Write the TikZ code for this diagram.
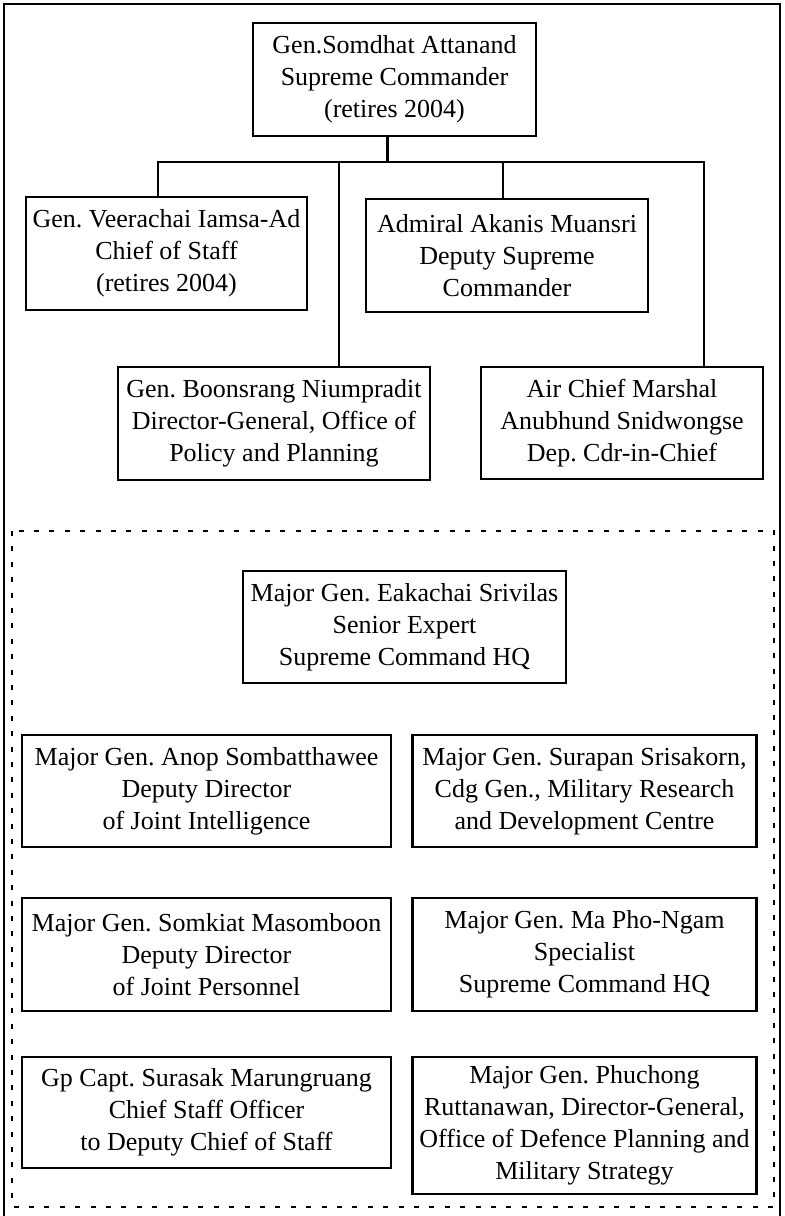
\documentclass[tikz,border=0pt]{standalone}
\usepackage{fontspec}
\setmainfont{Liberation Serif}
\frenchspacing

\begin{document}
\begin{tikzpicture}[x=0.5pt,y=-0.5pt,
	officer/.style={rectangle,draw,line width=1.3pt,align=center,inner xsep=1pt,inner ysep=2pt,font=\fontsize{13}{16}\selectfont},
	link/.style={line width=1.3pt},
	staff frame/.style={line width=1.3pt,dash pattern=on 2.5pt off 5.2pt}]
	\useasboundingbox (0,0) rectangle (784,1216);
	\draw[line width=1.4pt] (4,1216) |- (780,4) -- (780,1216);

	\node (supreme commander) [officer,minimum width=141.5pt,minimum height=56.5pt] at (394.5,79.5) {Gen.Somdhat Attanand\\Supreme Commander\\(retires 2004)};

	\node (chief of staff)  [officer,minimum width=140.5pt,minimum height=56.5pt] at (166.5,253.5) {Gen. Veerachai Iamsa-Ad\\Chief of Staff\\(retires 2004)};
	\node (deputy supreme)  [officer,minimum width=141pt,minimum height=56.5pt] at (507,255.5) {Admiral Akanis Muansri\\Deputy Supreme\\Commander};
	\node (policy planning) [officer,minimum width=156pt,minimum height=56.5pt] at (274,423.5) {Gen. Boonsrang Niumpradit\\Director-General, Office of\\Policy and Planning};
	\node (air chief)       [officer,minimum width=141pt,minimum height=56pt] at (622,423) {Air Chief Marshal\\Anubhund Snidwongse\\Dep. Cdr-in-Chief};

	\coordinate (bar west)   at (158,162);
	\coordinate (bar east)   at (704,162);
	\coordinate (tap policy) at (339,162);
	\coordinate (tap deputy) at (503,162);

	\draw[link] ([xshift=-3.5pt]supreme commander.south) -- ([xshift=-3.5pt]supreme commander.south |- bar west);
	\draw[link] (bar west |- chief of staff.north) -- (bar west) -- (bar east) -- (bar east |- air chief.north);
	\draw[link] (tap policy) -- (tap policy |- policy planning.north);
	\draw[link] (tap deputy) -- (tap deputy |- deputy supreme.north);

	\draw[staff frame] (12,531) rectangle (774,1207);

	\node (senior expert) [officer,minimum width=161.5pt,minimum height=56pt] at (404.5,627) {Major Gen. Eakachai Srivilas\\Senior Expert\\Supreme Command HQ};

	\node (joint intelligence) [officer,minimum width=184.5pt,minimum height=56pt] at (206.5,791) {Major Gen. Anop Sombatthawee\\Deputy Director\\of Joint Intelligence};
	\node (research centre)    [officer,minimum width=172pt,minimum height=56pt] at (584.5,791) {Major Gen. Surapan Srisakorn,\\Cdg Gen., Military Research\\and Development Centre};
	\node (joint personnel)    [officer,minimum width=184.5pt,minimum height=56.5pt] at (206.5,954.5) {Major Gen. Somkiat Masomboon\\Deputy Director\\of Joint Personnel};
	\node (specialist)         [officer,minimum width=172pt,minimum height=56.5pt] at (584.5,954.5) {Major Gen. Ma Pho-Ngam\\Specialist\\Supreme Command HQ};
	\node (staff officer)      [officer,minimum width=184.5pt,minimum height=55.5pt] at (206.5,1112.5) {Gp Capt. Surasak Marungruang\\Chief Staff Officer\\to Deputy Chief of Staff};
	\node (defence planning)   [officer,minimum width=172pt,minimum height=68.5pt] at (584.5,1125.5) {Major Gen. Phuchong\\Ruttanawan, Director-General,\\Office of Defence Planning and\\Military Strategy};

\end{tikzpicture}
\end{document}
